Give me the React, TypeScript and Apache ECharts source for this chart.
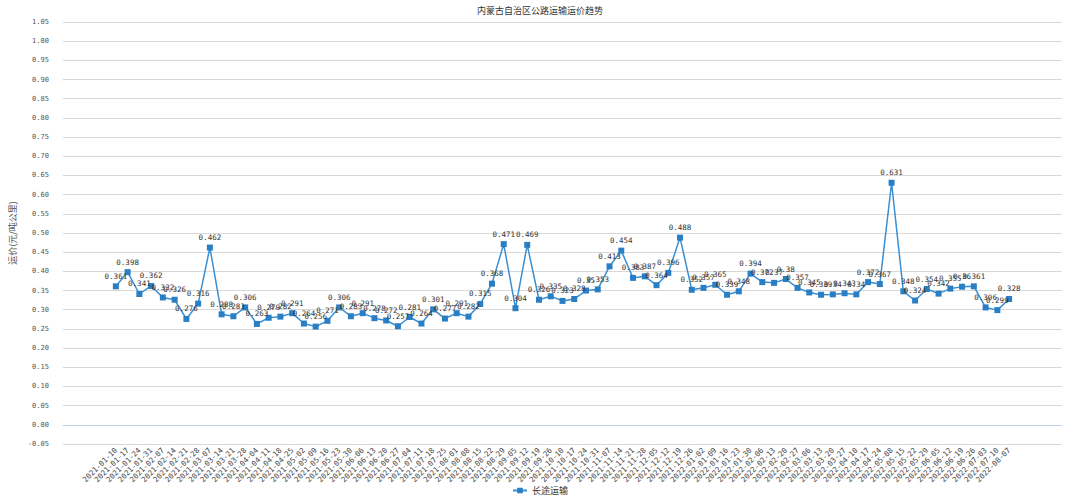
import React, { useEffect, useRef } from "react";
import * as echarts from "echarts";

const title = "内蒙古自治区公路运输运价趋势";
const seriesName = "长途运输";
const yAxisName = "运价(元/吨公里)";

const dates = [
  "2021-01-10", "2021-01-17", "2021-01-24", "2021-01-31", "2021-02-07", "2021-02-14", "2021-02-21", "2021-02-28",
  "2021-03-07", "2021-03-14", "2021-03-21", "2021-03-28", "2021-04-04", "2021-04-11", "2021-04-18", "2021-04-25",
  "2021-05-02", "2021-05-09", "2021-05-16", "2021-05-23", "2021-05-30", "2021-06-06", "2021-06-13", "2021-06-20",
  "2021-06-27", "2021-07-04", "2021-07-11", "2021-07-18", "2021-07-25", "2021-08-01", "2021-08-08", "2021-08-15",
  "2021-08-22", "2021-08-29", "2021-09-05", "2021-09-12", "2021-09-19", "2021-09-26", "2021-10-10", "2021-10-17",
  "2021-10-24", "2021-10-31", "2021-11-07", "2021-11-14", "2021-11-21", "2021-11-28", "2021-12-05", "2021-12-12",
  "2021-12-19", "2021-12-26", "2022-01-02", "2022-01-09", "2022-01-16", "2022-01-23", "2022-01-30", "2022-02-06",
  "2022-02-13", "2022-02-20", "2022-02-27", "2022-03-06", "2022-03-13", "2022-03-20", "2022-03-27", "2022-04-10",
  "2022-04-17", "2022-04-24", "2022-05-08", "2022-05-15", "2022-05-22", "2022-05-29", "2022-06-05", "2022-06-12",
  "2022-06-19", "2022-06-26", "2022-07-03", "2022-07-10", "2022-08-07",
];

const values = [
  0.361, 0.398, 0.341, 0.362, 0.332, 0.326, 0.276, 0.316, 0.462, 0.288, 0.283, 0.306, 0.263, 0.279, 0.282, 0.291,
  0.264, 0.256, 0.271, 0.306, 0.283, 0.291, 0.278, 0.272, 0.257, 0.281, 0.264, 0.301, 0.277, 0.291, 0.282, 0.315,
  0.368, 0.471, 0.304, 0.469, 0.326, 0.335, 0.323, 0.328, 0.35, 0.353, 0.413, 0.454, 0.383, 0.387, 0.364, 0.396,
  0.488, 0.352, 0.357, 0.365, 0.339, 0.348, 0.394, 0.372, 0.37, 0.38, 0.357, 0.345, 0.339, 0.34, 0.343, 0.34,
  0.372, 0.367, 0.631, 0.348, 0.324, 0.354, 0.342, 0.355, 0.36, 0.361, 0.306, 0.299, 0.328,
];

const PAD = 4;

export default function App() {
  const ref = useRef<HTMLDivElement>(null);
  useEffect(() => {
    document.body.style.margin = "0";
    if (!ref.current) return;
    const chart = echarts.init(ref.current, undefined, { renderer: "svg" });
    const padL = Array.from({ length: PAD }, (_, i) => "pad-l-" + i);
    const padR = Array.from({ length: PAD }, (_, i) => "pad-r-" + i);
    const cats = [...padL, ...dates, ...padR];
    const data = [...padL.map(() => null), ...values, ...padR.map(() => null)];
    const isReal = (_i: number, v: string) => !String(v).startsWith("pad-");
    const mono = "DejaVu Sans Mono";
    chart.setOption({
      animation: false,
      title: {
        text: title,
        left: "center",
        top: 1,
        textStyle: { fontSize: 9, fontWeight: "normal", color: "#333", fontFamily: "Noto Sans CJK SC" },
      },
      legend: {
        bottom: 4,
        left: "center",
        itemWidth: 14,
        itemHeight: 7,
        textStyle: { fontSize: 9, color: "#333", fontFamily: "Noto Sans CJK SC" },
        data: [seriesName],
      },
      grid: { left: 58, right: 18, top: 22, bottom: 60, containLabel: false },
      xAxis: {
        type: "category",
        data: cats,
        boundaryGap: true,
        axisLine: { lineStyle: { color: "#bcd6ee", width: 1 } },
        axisTick: { alignWithLabel: true, interval: isReal, length: 3, lineStyle: { color: "#bcd6ee" } },
        axisLabel: {
          interval: isReal,
          rotate: 45,
          fontSize: 7.5,
          color: "#444",
          fontFamily: mono,
          margin: 5,
          formatter: (v: string) => (String(v).startsWith("pad-") ? "" : v),
        },
      },
      yAxis: {
        type: "value",
        min: -0.05,
        max: 1.05,
        interval: 0.05,
        name: yAxisName,
        nameLocation: "middle",
        nameGap: 23,
        nameTextStyle: { fontSize: 9, color: "#555", fontFamily: "Noto Sans CJK SC" },
        axisLine: { show: false },
        axisTick: { show: false },
        axisLabel: {
          fontSize: 7,
          color: "#555",
          fontFamily: mono,
          margin: 14,
          formatter: (v: number) => v.toFixed(2),
        },
        splitLine: { lineStyle: { color: "#d9d9d9", width: 1 } },
      },
      series: [
        {
          name: seriesName,
          type: "line",
          data,
          symbol: "rect",
          symbolSize: 6,
          connectNulls: false,
          lineStyle: { color: "#3a8fd2", width: 1.5 },
          itemStyle: { color: "#2a7fc4" },
          label: {
            show: true,
            position: "top",
            distance: 3,
            fontSize: 7.5,
            color: "#333",
            fontFamily: mono,
          },
        },
      ],
    });
    return () => chart.dispose();
  }, []);
  return <div ref={ref} style={{ width: 1080, height: 504 }} />;
}
